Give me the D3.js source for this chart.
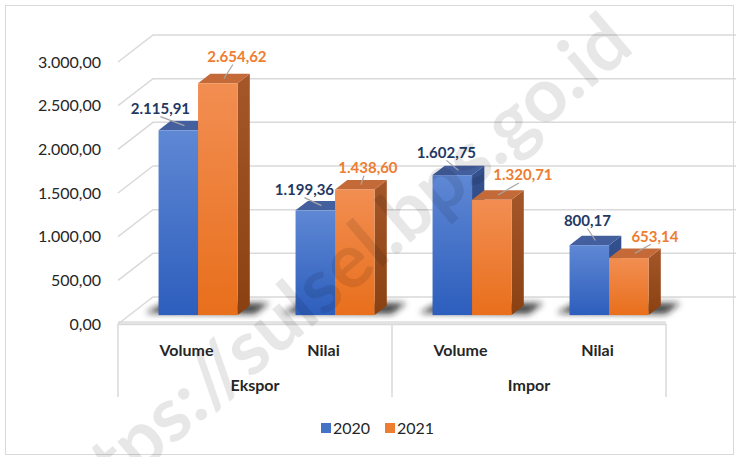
<!DOCTYPE html>
<html>
<head>
<meta charset="utf-8">
<script src="https://cdn.jsdelivr.net/npm/d3@7"></script>
<style>
  body { margin: 0; background: #fff; }
  svg { display: block; font-family: Lato, "Open Sans", sans-serif; }
</style>
</head>
<body>
<div id="chart"></div>
<script>
// data
const groups = ["Ekspor", "Ekspor", "Impor", "Impor"];
const categories = ["Volume", "Nilai", "Volume", "Nilai"];
const years = ["2020", "2021"];
const values2020 = [2115.91, 1199.36, 1602.75, 800.17];
const values2021 = [2654.62, 1438.60, 1320.71, 653.14];
const yTicks = [0, 500, 1000, 1500, 2000, 2500, 3000];

// label nudges (layout only, px from the top of each bar)
const labelShift2020 = [[-24, -17], [-17, -16], [-12, -18], [-8, -20]];
const labelShift2021 = [[13, -22], [7, -17], [25, -20], [20, -17]];

const width = 736;
const height = 457;
const DX = 35, DY = 27;      // depth of the 3D box
const z0 = 0.33, z1 = 0.68;  // bar depth

const fmt = d3.formatLocale({decimal: ",", thousands: ".", grouping: [3], currency: ["", ""]}).format(",.2f");

const svg = d3.select("#chart")
    .append("svg")
    .attr("width", width)
    .attr("height", height)
    .attr("viewBox", `0 0 ${width} ${height}`);

const defs = svg.append("defs");
function grad(id, top, bottom) {
    const g = defs.append("linearGradient").attr("id", id)
        .attr("x1", 0).attr("y1", 0).attr("x2", 0).attr("y2", 1);
    g.append("stop").attr("offset", "0%").attr("stop-color", top);
    g.append("stop").attr("offset", "100%").attr("stop-color", bottom);
}
grad("front2020", "#5f88d4", "#2d5ebd");
grad("front2021", "#f28e52", "#e86f1c");
grad("side2020", "#34518f", "#27437c");
grad("side2021", "#a5572a", "#8a4111");
defs.append("filter").attr("id", "blur")
    .attr("x", "-50%").attr("y", "-50%").attr("width", "200%").attr("height", "200%")
    .append("feGaussianBlur").attr("stdDeviation", 3);

const colors = {
    "2020": {front: "url(#front2020)", top: "#445f9e", side: "url(#side2020)", label: "#1f3864"},
    "2021": {front: "url(#front2021)", top: "#c46a38", side: "url(#side2021)", label: "#ed7d31"}
};

// outer frame
svg.append("rect")
    .attr("x", 5.5).attr("y", 5.5)
    .attr("width", 728).attr("height", 449)
    .attr("fill", "#fff").attr("stroke", "#d9d9d9");

const keys = categories.map((c, i) => i);
const x0 = d3.scaleBand().domain(keys).range([118, 666]);
const x1 = d3.scaleBand().domain(years).range([29, 108]);
const y = d3.scaleLinear().domain([0, 3000]).range([324, 62]);

const proj = (xf, v, z) => [xf + z * DX, y(v) - z * DY];
const pts = arr => arr.map(p => p.join(",")).join(" ");

// floor
const xL = x0.range()[0], xR = x0.range()[1];
svg.append("polygon")
    .attr("points", pts([proj(xL, 0, 0), proj(xL, 0, 1), proj(xR, 0, 1), proj(xR, 0, 0)]))
    .attr("fill", "#fff");
svg.append("rect")
    .attr("x", xL).attr("y", y(0) - 3)
    .attr("width", xR - xL).attr("height", 3)
    .attr("fill", "#e4e4e4");

// gridlines: side wall diagonal + back wall
const grid = svg.append("g").attr("stroke", "#d9d9d9").attr("stroke-width", 1.5).attr("fill", "none");
grid.selectAll("polyline")
    .data(yTicks)
    .join("polyline")
    .attr("points", d => pts([proj(xL, d, 0), proj(xL, d, 1), proj(xR + DX, d, 1)]));

// y labels
svg.append("g").selectAll("text")
    .data(yTicks)
    .join("text")
    .attr("x", 101)
    .attr("y", d => y(d))
    .attr("dy", "0.35em")
    .attr("text-anchor", "end")
    .style("font-size", "16px")
    .style("fill", "#262626")
    .text(d => fmt(d));

// category axis box
const axis = svg.append("g").attr("stroke", "#d9d9d9").attr("stroke-width", 1.5);
axis.append("line").attr("x1", xL).attr("x2", xR).attr("y1", y(0) + 0.5).attr("y2", y(0) + 0.5);
[0, 2, 4].forEach(i => {
    const xx = i < 4 ? x0(i) : xR;
    axis.append("line").attr("x1", xx).attr("x2", xx).attr("y1", y(0)).attr("y2", 397);
});

svg.append("g").selectAll("text")
    .data(categories)
    .join("text")
    .attr("x", (d, i) => x0(i) + x0.bandwidth() / 2)
    .attr("y", 356)
    .attr("text-anchor", "middle")
    .style("font-size", "16px")
    .style("font-weight", 700)
    .style("fill", "#262626")
    .text(d => d);

const groupNames = Array.from(new Set(groups));
svg.append("g").selectAll("text")
    .data(groupNames)
    .join("text")
    .attr("x", d => {
        const idx = keys.filter(i => groups[i] === d);
        return (x0(idx[0]) + x0(idx[idx.length - 1]) + x0.bandwidth()) / 2;
    })
    .attr("y", 391)
    .attr("text-anchor", "middle")
    .style("font-size", "16px")
    .style("font-weight", 700)
    .style("fill", "#262626")
    .text(d => d);

// bars
const series = {"2020": values2020, "2021": values2021};
const shifts = {"2020": labelShift2020, "2021": labelShift2021};
const bars = [];
keys.forEach(i => {
    years.forEach(yr => {
        const xa = x0(i) + x1(yr);
        const xb = xa + x1.bandwidth();
        bars.push({i, yr, v: series[yr][i], xa, xb});
    });
});

// shadows first
const shadowG = svg.append("g").attr("filter", "url(#blur)");
keys.forEach(i => {
    const xa = x0(i) + x1(years[0]) - 16;
    const xb = x0(i) + x1(years[1]) + x1.bandwidth() + 16;
    shadowG.append("polygon")
        .attr("points", pts([proj(xa, 0, z0 + 0.08), proj(xa + 6, 0, z1 + 0.1), proj(xb, 0, z1 + 0.1), proj(xb, 0, z0 + 0.04)]))
        .attr("fill", "#1a1a1a")
        .attr("opacity", 0.8);
});

const barG = svg.append("g");
bars.forEach(b => {
    const c = colors[b.yr];
    const g = barG.append("g");
    g.append("polygon")
        .attr("points", pts([proj(b.xb, b.v, z0), proj(b.xb, b.v, z1), proj(b.xb, 0, z1), proj(b.xb, 0, z0)]))
        .attr("fill", c.side);
    g.append("polygon")
        .attr("points", pts([proj(b.xa, b.v, z0), proj(b.xb, b.v, z0), proj(b.xb, b.v, z1), proj(b.xa, b.v, z1)]))
        .attr("fill", c.top);
    const [fx, fy] = proj(b.xa, b.v, z0);
    const [, by] = proj(b.xa, 0, z0);
    g.append("rect")
        .attr("x", fx).attr("y", fy)
        .attr("width", b.xb - b.xa).attr("height", by - fy)
        .attr("fill", c.front);
});

// data labels with leader lines
const labelG = svg.append("g");
bars.forEach(b => {
    const c = colors[b.yr];
    const [tx, ty] = proj((b.xa + b.xb) / 2, b.v, (z0 + z1) / 2);
    const [sx, sy] = shifts[b.yr][b.i];
    const lx = tx + sx, ly = ty + sy;
    const ex = lx + (sx < 0 ? 0 : -4), ey = ly + 8;
    if (Math.hypot(tx - ex, ty - ey) > 8) {
        labelG.append("line")
            .attr("x1", ex).attr("y1", ey)
            .attr("x2", tx).attr("y2", ty)
            .attr("stroke", "#a6a6a6").attr("stroke-width", 1.2);
    }
    labelG.append("text")
        .attr("x", lx).attr("y", ly)
        .attr("dy", "0.35em")
        .attr("text-anchor", "middle")
        .style("font-size", "15px")
        .style("font-weight", 700)
        .style("fill", c.label)
        .text(fmt(b.v));
});

// legend
const legend = svg.append("g").attr("transform", "translate(321, 423)");
const lg = legend.selectAll("g")
    .data(years)
    .join("g")
    .attr("transform", (d, i) => `translate(${i * 64}, 0)`);
lg.append("rect")
    .attr("width", 10).attr("height", 10)
    .attr("fill", d => d === "2020" ? "#4472c4" : "#ed7d31");
lg.append("text")
    .attr("x", 12).attr("y", 5)
    .attr("dy", "0.35em")
    .style("font-size", "16px")
    .style("fill", "#262626")
    .text(d => d);

// watermark
svg.append("text")
    .attr("transform", "translate(636, 50) rotate(-40.5)")
    .attr("text-anchor", "end")
    .style("font-size", "76px")
    .style("font-weight", 700)
    .style("fill", "#000")
    .style("opacity", 0.09)
    .text("https://sulsel.bps.go.id");
</script>
</body>
</html>
